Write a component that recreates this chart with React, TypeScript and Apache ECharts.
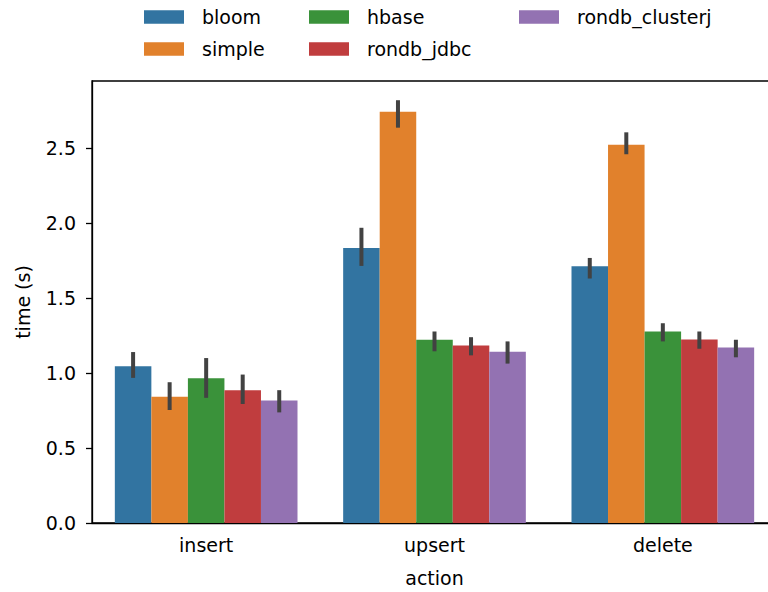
import React, { useEffect, useRef } from "react";
import * as echarts from "echarts";

const actions = ["insert", "upsert", "delete"];
const hues = ["bloom", "simple", "hbase", "rondb_jdbc", "rondb_clusterj"];
const colors = ["#3274a1", "#e1812c", "#3a923a", "#c03d3e", "#9372b2"];

const bloom = [1.044, 1.832, 1.711];
const simple = [0.841, 2.74, 2.521];
const hbase = [0.965, 1.221, 1.276];
const rondbJdbc = [0.885, 1.183, 1.223];
const rondbClusterj = [0.817, 1.141, 1.17];

const bloomLow = [0.967, 1.713, 1.629];
const bloomHigh = [1.139, 1.967, 1.766];
const simpleLow = [0.753, 2.634, 2.457];
const simpleHigh = [0.938, 2.817, 2.603];
const hbaseLow = [0.834, 1.144, 1.21];
const hbaseHigh = [1.099, 1.276, 1.331];
const jdbcLow = [0.793, 1.117, 1.161];
const jdbcHigh = [0.989, 1.238, 1.276];
const clusterjLow = [0.737, 1.062, 1.104];
const clusterjHigh = [0.885, 1.21, 1.221];

const yTicks = [0, 0.5, 1.0, 1.5, 2.0, 2.5];

const FONT = "DejaVu Sans";
const FS = 19;

export default function App() {
  const ref = useRef<HTMLDivElement>(null);
  useEffect(() => {
    document.body.style.margin = "0";
    if (!ref.current) return;
    const chart = echarts.init(ref.current, null, { renderer: "svg" });
    const values = [bloom, simple, hbase, rondbJdbc, rondbClusterj];
    const lows = [bloomLow, simpleLow, hbaseLow, jdbcLow, clusterjLow];
    const highs = [bloomHigh, simpleHigh, hbaseHigh, jdbcHigh, clusterjHigh];
    const n = hues.length;

    const barSeries = hues.map((h, i) => ({
      name: h,
      type: "bar",
      data: values[i],
      itemStyle: { color: colors[i] },
      barGap: "0%",
      barCategoryGap: "20%",
      z: 2,
    }));

    const errSeries = hues.map((h, i) => ({
      name: h + "_err",
      type: "custom",
      z: 5,
      encode: { x: 0, y: [1, 2] },
      data: actions.map((_, k) => [k, lows[i][k], highs[i][k]]),
      renderItem: (params: any, api: any) => {
        const c = api.value(0);
        const lo = api.coord([c, api.value(1)]);
        const hi = api.coord([c, api.value(2)]);
        const band = api.size([1, 0])[0];
        const off = (i - (n - 1) / 2) * band * 0.8 / n;
        return {
          type: "line",
          shape: { x1: lo[0] + off, y1: lo[1], x2: hi[0] + off, y2: hi[1] },
          style: { stroke: "#424242", lineWidth: 4, lineCap: "butt" },
        };
      },
    }));

    const legendPos = [
      { left: 144, top: 7 },
      { left: 144, top: 39 },
      { left: 309, top: 7 },
      { left: 309, top: 39 },
      { left: 519, top: 7 },
    ];

    const legends = hues.map((h, i) => ({
      data: [h],
      left: legendPos[i].left,
      top: legendPos[i].top,
      padding: 0,
      itemWidth: 40,
      itemHeight: 13.4,
      icon: "rect",
      selectedMode: false,
      textStyle: {
        fontFamily: FONT,
        fontSize: FS,
        color: "#000",
        lineHeight: 20,
        padding: [0, 0, 0, 13],
      },
    }));

    chart.setOption({
      animation: false,
      backgroundColor: "#fff",
      textStyle: { fontFamily: FONT },
      legend: legends,
      grid: {
        left: 92,
        right: 13,
        top: 81,
        bottom: 66,
        show: true,
        borderColor: "#000",
        borderWidth: 1.3,
        backgroundColor: "transparent",
      },
      xAxis: {
        type: "category",
        data: actions,
        name: "action",
        nameLocation: "middle",
        nameGap: 45,
        nameTextStyle: { fontFamily: FONT, fontSize: FS, color: "#000" },
        axisLine: { lineStyle: { color: "#000", width: 1.3 } },
        axisTick: { alignWithLabel: true, length: 6, lineStyle: { color: "#000", width: 1.3 } },
        axisLabel: { fontFamily: FONT, fontSize: FS, color: "#000", margin: 12 },
        splitLine: { show: false },
      },
      yAxis: {
        type: "value",
        min: 0,
        max: 2.945,
        interval: 0.5,
        name: "time (s)",
        nameLocation: "middle",
        nameGap: 60,
        nameTextStyle: { fontFamily: FONT, fontSize: FS, color: "#000" },
        axisLine: { show: true, lineStyle: { color: "#000", width: 1.3 } },
        axisTick: {
          show: true,
          length: 6,
          customValues: yTicks,
          lineStyle: { color: "#000", width: 1.3 },
        },
        axisLabel: {
          fontFamily: FONT,
          fontSize: FS,
          color: "#000",
          margin: 16,
          customValues: yTicks,
          formatter: (v: number) => v.toFixed(1),
        },
        splitLine: { show: false },
      },
      series: [...barSeries, ...errSeries],
    });
    return () => chart.dispose();
  }, []);
  return (
    <div
      style={{
        position: "fixed",
        left: 0,
        top: 0,
        width: 768,
        height: 592,
        overflow: "hidden",
      }}
    >
      <div ref={ref} style={{ width: 790, height: 592 }} />
    </div>
  );
}
